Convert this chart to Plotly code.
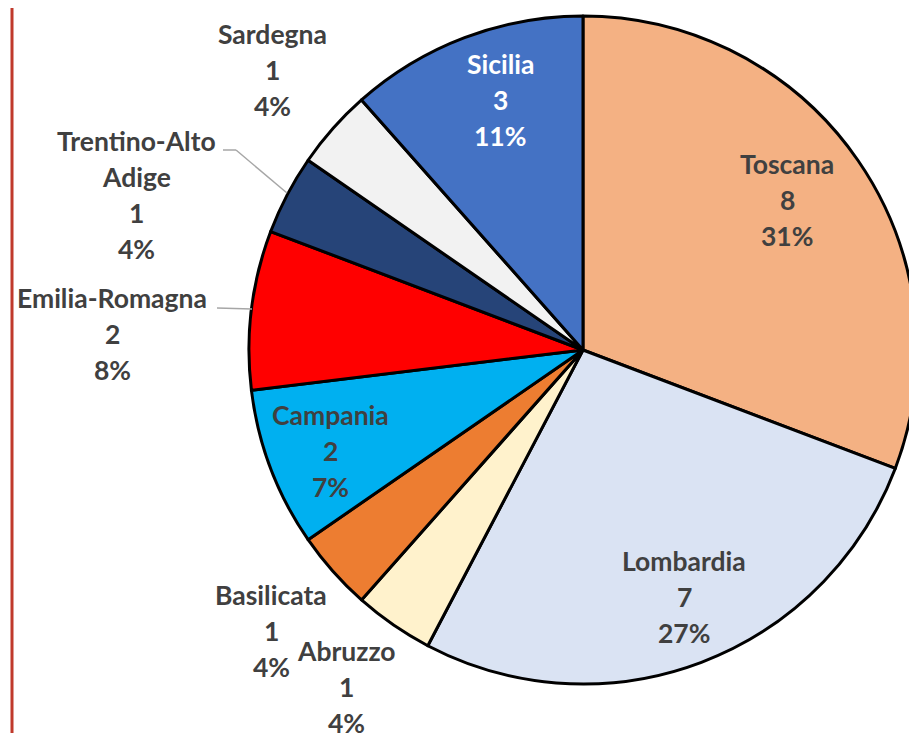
import plotly.graph_objects as go

# ---- data ----
regions = ["Toscana", "Lombardia", "Abruzzo", "Basilicata", "Campania",
           "Emilia-Romagna", "Trentino-Alto Adige", "Sardegna", "Sicilia"]
counts = [8, 7, 1, 1, 2, 2, 1, 1, 3]
pct_labels = ["31%", "27%", "4%", "4%", "7%", "8%", "4%", "4%", "11%"]

# ---- style ----
colors = ["#F4B183", "#DAE3F3", "#FFF2CC", "#ED7D31", "#00B0F0",
          "#FF0000", "#264478", "#F2F2F2", "#4472C4"]
text_colors = ["#404040"] * 8 + ["#FFFFFF"]
OFF = 8  # page body margin
W, H = 917 - OFF, 733 - OFF
# label anchor (centre of first line) in reference page pixels, per slice
label_px = [(787, 164), (684, 561), (346, 651), (271, 595), (330, 415),
            (112, 298), (136, 141), (272, 34), (500, 64)]
line_gap = 36

fig = go.Figure(go.Pie(
    labels=regions, values=counts, sort=False, direction="clockwise",
    rotation=0, textinfo="none", hoverinfo="skip",
    marker=dict(colors=colors, line=dict(color="#000000", width=3)),
    domain=dict(x=[0.2651, 1.0], y=[0.0676, 0.989]),
    showlegend=False,
))

annotations = []
for name, val, pct, (px, py), tc in zip(regions, counts, pct_labels, label_px, text_colors):
    lines = name.split(" ") + [str(val), pct]
    for i, ln in enumerate(lines):
        annotations.append(dict(
            x=(px - OFF) / W, y=1 - (py - OFF + i * line_gap) / H,
            xref="paper", yref="paper",
            text=ln, showarrow=False, xanchor="center", yanchor="middle",
            font=dict(family="Lato", size=26.5, color=tc, weight="bold"),
        ))

def seg(x0, y0, x1, y1, color="#A6A6A6", width=1.5):
    return dict(type="line", xref="paper", yref="paper",
                x0=(x0 - OFF) / W, y0=1 - (y0 - OFF) / H,
                x1=(x1 - OFF) / W, y1=1 - (y1 - OFF) / H,
                line=dict(color=color, width=width))

shapes = [
    seg(223, 150, 236, 150), seg(236, 150, 287, 193),
    seg(217, 308, 252, 309),
    dict(type="line", xref="paper", yref="paper",
         x0=(12 - OFF) / W, x1=(12 - OFF) / W, y0=0, y1=1,
         line=dict(color="#C0392B", width=3)),
]

fig.update_layout(
    width=W, height=H, margin=dict(l=0, r=0, t=0, b=0),
    paper_bgcolor="white", plot_bgcolor="white",
    annotations=annotations, shapes=shapes,
)
fig.write_html("out.html")
